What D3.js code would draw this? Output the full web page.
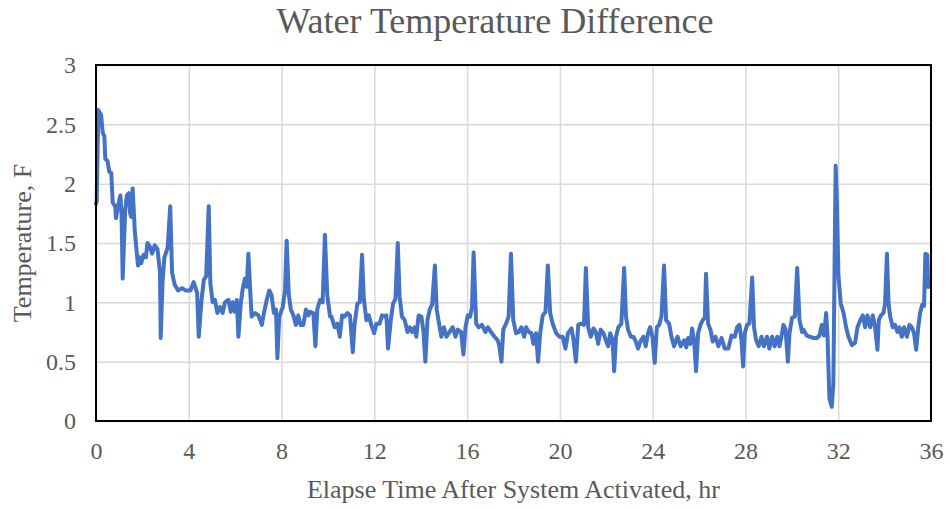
<!DOCTYPE html>
<html>
<head>
<meta charset="utf-8">
<script src="https://cdn.jsdelivr.net/npm/d3@7"></script>
<style>
    body { margin: 0; background: #fff; overflow: hidden; }
    svg { display: block; }
    text { font-family: "Liberation Serif", "Times New Roman", serif; fill: #595959; }
</style>
</head>
<body>
<svg id="chart" width="950" height="508"></svg>
<script>
// Elapsed time (hr) and temperature difference (F)
const elapsedHours = [
    0.00, 0.03, 0.10, 0.15, 0.22, 0.29, 0.36, 0.40, 0.50, 0.57, 0.66, 0.72, 0.83, 0.86, 0.95, 1.05, 1.10, 1.15, 1.26, 1.33,
    1.42, 1.47, 1.52, 1.58, 1.67, 1.72, 1.81, 1.88, 1.95, 2.05, 2.15, 2.22, 2.32, 2.42, 2.53, 2.65, 2.76, 2.79, 2.87, 2.95,
    3.09, 3.20, 3.28, 3.39, 3.54, 3.71, 3.86, 4.07, 4.21, 4.36, 4.43, 4.54, 4.65, 4.75, 4.86, 4.93, 5.03,
    5.13, 5.23, 5.35, 5.46, 5.56, 5.71, 5.81, 5.89, 5.99, 6.07, 6.14, 6.24, 6.33, 6.42, 6.50, 6.57, 6.64, 6.71, 6.86, 7.00,
    7.15, 7.24, 7.36, 7.47, 7.57, 7.67, 7.76, 7.82, 7.90, 8.05, 8.15, 8.22, 8.31, 8.40, 8.51, 8.62, 8.72, 8.82, 8.94, 9.05,
    9.16, 9.23, 9.37, 9.46, 9.54, 9.66, 9.77, 9.87, 9.97, 10.09,
    10.15, 10.29, 10.41, 10.51, 10.61, 10.72, 10.84, 10.95, 11.07, 11.15, 11.27, 11.37, 11.47, 11.55, 11.66, 11.76, 11.87, 11.99, 12.09, 12.23,
    12.33, 12.45, 12.52, 12.59, 12.71, 12.81, 12.91, 13.01, 13.09, 13.19, 13.31, 13.43, 13.53, 13.63, 13.74, 13.81, 13.91, 14.03, 14.12, 14.20,
    14.29, 14.39, 14.49, 14.61, 14.69, 14.79, 14.89, 15.00, 15.11,
    15.24, 15.38, 15.50, 15.60, 15.74, 15.84, 15.93, 16.03, 16.13, 16.21, 16.28, 16.39, 16.50, 16.64, 16.79, 16.89, 17.03, 17.18, 17.32, 17.39,
    17.48, 17.56, 17.68, 17.79, 17.89, 17.99, 18.11, 18.23, 18.34, 18.46, 18.54, 18.66, 18.77, 18.86, 18.97, 19.06, 19.15, 19.26, 19.38, 19.48,
    19.58, 19.69, 19.84, 19.98, 20.12,
    20.24, 20.35, 20.50, 20.59, 20.69, 20.79, 20.90, 21.04, 21.12, 21.22, 21.33, 21.45, 21.55, 21.65, 21.76, 21.88, 21.98, 22.08, 22.17, 22.27,
    22.34, 22.42, 22.52, 22.65, 22.77, 22.85, 22.94, 23.06, 23.17, 23.27, 23.37, 23.49, 23.60, 23.70, 23.80, 23.89, 23.99, 24.09, 24.18, 24.28,
    24.38, 24.49, 24.58, 24.71, 24.81, 24.92, 25.07, 25.21, 25.36,
    25.45, 25.53, 25.63, 25.70, 25.79, 25.87, 25.96, 26.06, 26.16, 26.25, 26.30, 26.39, 26.49, 26.59, 26.71, 26.83, 26.97, 27.11, 27.26, 27.40,
    27.54, 27.64, 27.74, 27.83, 27.90, 27.97, 28.07, 28.17, 28.29, 28.37, 28.46, 28.57, 28.69, 28.79, 28.93, 29.03, 29.15, 29.26, 29.37, 29.47,
    29.55, 29.64, 29.73, 29.83, 29.90, 30.01, 30.13, 30.23, 30.33, 30.44,
    30.50, 30.64, 30.79, 30.93, 31.08, 31.19, 31.29, 31.39, 31.48, 31.54, 31.62, 31.72, 31.79, 31.85, 31.89, 31.94, 32.01, 32.11, 32.23, 32.34,
    32.44, 32.59, 32.73, 32.83, 32.95, 33.06, 33.16, 33.26, 33.38, 33.49, 33.59, 33.69, 33.75, 33.84, 33.95, 34.02, 34.10, 34.17, 34.24, 34.35,
    34.45, 34.55, 34.64, 34.74, 34.84, 34.96, 35.07, 35.17, 35.27, 35.36, 35.45, 35.53, 35.62, 35.70, 35.76, 35.84, 35.88
];

const tempDiff = [
    1.83, 1.85, 2.62, 2.60, 2.58, 2.43, 2.40, 2.21, 2.19, 2.10, 2.09, 1.84, 1.81, 1.71, 1.81, 1.90, 1.75, 1.20, 1.78, 1.90,
    1.92, 1.75, 1.72, 1.96, 1.61, 1.50, 1.31, 1.38, 1.33, 1.40, 1.38, 1.50, 1.47, 1.41, 1.48, 1.45, 1.25, 0.70, 1.18, 1.38,
    1.46, 1.81, 1.25, 1.15, 1.10, 1.12, 1.10, 1.10, 1.17, 1.08, 0.71, 1.00, 1.19, 1.22, 1.81, 1.16, 1.00,
    1.02, 0.91, 0.96, 0.91, 1.00, 1.02, 0.92, 1.00, 0.92, 1.02, 0.71, 0.99, 1.12, 1.20, 1.13, 1.41, 1.13, 0.88, 0.91, 0.89,
    0.81, 0.91, 1.02, 1.10, 1.06, 0.91, 0.94, 0.53, 0.88, 0.96, 1.10, 1.52, 1.07, 0.94, 0.89, 0.81, 0.89, 0.81, 0.81, 0.94,
    0.89, 0.92, 0.91, 0.63, 0.94, 1.02, 1.00, 1.57, 1.06, 0.88,
    0.88, 0.79, 0.82, 0.71, 0.89, 0.88, 0.91, 0.89, 0.58, 0.82, 0.99, 1.00, 1.40, 1.02, 0.85, 0.89, 0.81, 0.74, 0.82, 0.82,
    0.89, 0.88, 0.89, 0.61, 0.85, 0.99, 1.03, 1.50, 1.05, 0.88, 0.85, 0.75, 0.79, 0.75, 0.79, 0.71, 0.89, 0.88, 0.75, 0.50,
    0.85, 0.94, 0.98, 1.31, 0.94, 0.82, 0.71, 0.79, 0.71,
    0.75, 0.79, 0.71, 0.77, 0.75, 0.56, 0.79, 0.89, 0.88, 0.96, 1.42, 0.82, 0.79, 0.81, 0.75, 0.79, 0.75, 0.71, 0.68, 0.63,
    0.50, 0.77, 0.82, 0.88, 1.41, 0.85, 0.74, 0.75, 0.79, 0.71, 0.79, 0.75, 0.74, 0.65, 0.74, 0.50, 0.74, 0.89, 0.92, 1.31,
    0.91, 0.82, 0.74, 0.71, 0.71,
    0.61, 0.74, 0.78, 0.68, 0.50, 0.81, 0.82, 0.81, 1.29, 0.79, 0.71, 0.78, 0.75, 0.65, 0.77, 0.74, 0.68, 0.63, 0.74, 0.68,
    0.42, 0.71, 0.79, 0.82, 1.29, 0.88, 0.77, 0.71, 0.71, 0.67, 0.61, 0.68, 0.71, 0.63, 0.74, 0.79, 0.71, 0.49, 0.79, 0.81,
    0.88, 1.31, 0.85, 0.82, 0.71, 0.63, 0.71, 0.63, 0.68,
    0.62, 0.70, 0.65, 0.78, 0.68, 0.42, 0.74, 0.81, 0.85, 0.87, 1.24, 0.82, 0.77, 0.67, 0.71, 0.63, 0.70, 0.61, 0.61, 0.72,
    0.71, 0.79, 0.81, 0.68, 0.46, 0.74, 0.81, 0.82, 1.21, 0.79, 0.68, 0.63, 0.71, 0.63, 0.71, 0.61, 0.71, 0.63, 0.71, 0.63,
    0.71, 0.81, 0.77, 0.50, 0.74, 0.87, 0.88, 1.29, 0.85, 0.75,
    0.77, 0.72, 0.71, 0.70, 0.70, 0.72, 0.81, 0.72, 0.91, 0.71, 0.19, 0.12, 0.31, 1.44, 2.15, 1.86, 1.22, 0.99, 0.91, 0.79,
    0.71, 0.64, 0.66, 0.79, 0.85, 0.89, 0.79, 0.89, 0.79, 0.89, 0.79, 0.60, 0.85, 0.89, 0.91, 0.99, 1.41, 0.99, 0.88, 0.79,
    0.81, 0.75, 0.79, 0.71, 0.79, 0.71, 0.81, 0.79, 0.74, 0.60, 0.79, 0.91, 0.98, 0.97, 1.41, 1.40, 1.13
];

const xTicks = [0, 4, 8, 12, 16, 20, 24, 28, 32, 36];
const yTicks = [0, 0.5, 1, 1.5, 2, 2.5, 3];

const chartTitle = "Water Temperature Difference";
const xTitle = "Elapse Time After System Activated, hr";
const yTitle = "Temperature, F";

const width = 950, height = 508;
const margin = { top: 65, right: 19, bottom: 87, left: 96 };
const innerWidth = width - margin.left - margin.right;
const innerHeight = height - margin.top - margin.bottom;

const svg = d3.select("#chart");

const xScale = d3.scaleLinear().domain([0, 36]).range([0, innerWidth]);
const yScale = d3.scaleLinear().domain([0, 3]).range([innerHeight, 0]);

const g = svg.append("g")
    .attr("transform", `translate(${margin.left}, ${margin.top})`);

// Gridlines (axis ticks with the labels stripped out)
g.append("g")
    .call(d3.axisLeft(yScale).tickValues(yTicks).tickSize(-innerWidth).tickFormat(""))
    .call(a => a.select(".domain").remove())
    .call(a => a.selectAll("text").remove())
    .selectAll("line")
    .attr("stroke", "#d9d9d9")
    .attr("stroke-width", 1.5);

g.append("g")
    .call(d3.axisTop(xScale).tickValues(xTicks).tickSize(-innerHeight).tickFormat(""))
    .call(a => a.select(".domain").remove())
    .call(a => a.selectAll("text").remove())
    .selectAll("line")
    .attr("stroke", "#d9d9d9")
    .attr("stroke-width", 1.5);

// Tick labels
const xAxis = g.append("g")
    .attr("transform", `translate(0, ${innerHeight})`)
    .call(d3.axisBottom(xScale).tickValues(xTicks).tickSize(0).tickPadding(21).tickFormat(d3.format("d")));
xAxis.select(".domain").remove();
xAxis.selectAll("text")
    .attr("font-family", "Liberation Serif")
    .attr("font-size", 24)
    .attr("fill", "#595959");

const yAxis = g.append("g")
    .call(d3.axisLeft(yScale).tickValues(yTicks).tickSize(0).tickPadding(20).tickFormat(d => d));
yAxis.select(".domain").remove();
yAxis.selectAll("text")
    .attr("font-family", "Liberation Serif")
    .attr("font-size", 24)
    .attr("fill", "#595959");

// Data line
const series = elapsedHours.map((t, i) => ({ t: t, v: tempDiff[i] }));
const line = d3.line()
    .x(d => xScale(d.t))
    .y(d => yScale(d.v));

g.append("path")
    .datum(series)
    .attr("fill", "none")
    .attr("stroke", "#4472c4")
    .attr("stroke-width", 4)
    .attr("stroke-linejoin", "round")
    .attr("stroke-linecap", "round")
    .attr("d", line);

// Plot frame
g.append("rect")
    .attr("width", innerWidth)
    .attr("height", innerHeight)
    .attr("fill", "none")
    .attr("stroke", "#000")
    .attr("stroke-width", 2);

// Titles
svg.append("text")
    .attr("x", 495)
    .attr("y", 33)
    .attr("text-anchor", "middle")
    .attr("font-size", 36)
    .text(chartTitle);

svg.append("text")
    .attr("x", margin.left + innerWidth / 2)
    .attr("y", 498)
    .attr("text-anchor", "middle")
    .attr("font-size", 26)
    .text(xTitle);

svg.append("text")
    .attr("transform", `translate(31, ${margin.top + innerHeight / 2}) rotate(-90)`)
    .attr("text-anchor", "middle")
    .attr("font-size", 26)
    .text(yTitle);
</script>
</body>
</html>
